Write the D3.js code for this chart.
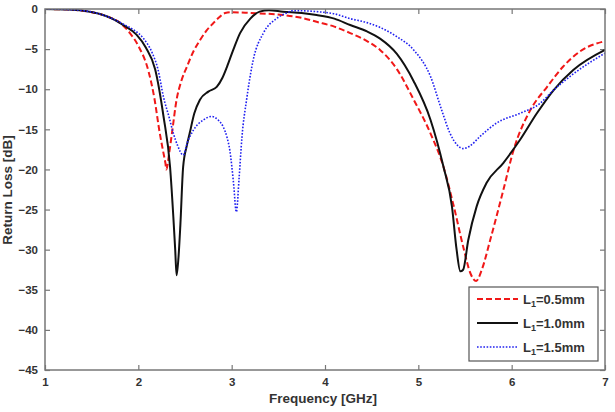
<!DOCTYPE html>
<html><head><meta charset="utf-8">
<script src="https://cdn.jsdelivr.net/npm/d3@7"></script>
<style>body{margin:0;background:#fff}svg{display:block}text{font-family:"Liberation Sans",Arial,sans-serif;font-weight:bold;fill:#333}</style>
</head><body>
<svg id="c" width="615" height="412"></svg>
<script>
const xTicks = [1,2,3,4,5,6,7];
const yTicks = [0,-5,-10,-15,-20,-25,-30,-35,-40,-45];
const seriesNames = ["=0.5mm","=1.0mm","=1.5mm"];

const redF = [1.0,1.3,1.5,1.66,1.8,1.91,2.0,2.11,2.17,2.23,2.27,2.29,2.30,2.33,2.36,2.41,2.46,2.52,2.59,2.66,2.73,2.80,2.87,2.93,3.0,3.2,3.55,3.75,3.91,4.1,4.27,4.45,4.59,4.77,4.95,5.13,5.27,5.38,5.48,5.56,5.62,5.68,5.77,5.91,6.02,6.2,6.38,6.55,6.73,7.0];
const redV = [0,-0.1,-0.4,-0.9,-1.7,-3.0,-4.6,-7.8,-11.0,-15.5,-18,-19.2,-20,-18,-15.5,-11.3,-9,-7.2,-5.3,-3.9,-2.7,-1.8,-1.0,-0.5,-0.4,-0.5,-0.75,-1.1,-1.6,-2.2,-3.0,-4.0,-5.1,-7.5,-11.3,-15.5,-19.7,-24.6,-29.6,-33,-33.9,-32.5,-28.8,-22.6,-17.6,-12.6,-9.7,-7.2,-5.3,-4.0];

const blackF = [1.0,1.3,1.66,1.84,1.98,2.08,2.18,2.27,2.34,2.375,2.395,2.41,2.43,2.45,2.48,2.52,2.55,2.60,2.66,2.75,2.84,2.90,2.95,3.02,3.09,3.2,3.3,3.4,3.55,3.75,3.91,4.1,4.27,4.45,4.59,4.77,4.95,5.13,5.27,5.36,5.41,5.45,5.48,5.535,5.625,5.73,5.91,6.09,6.27,6.45,6.66,7.0];
const blackV = [0,-0.1,-0.9,-2.0,-3.2,-4.8,-7.5,-13.4,-19.7,-25.9,-30,-33.2,-31,-27,-19.7,-17,-15.5,-13,-11.3,-10.3,-9.7,-8.6,-7.2,-5.0,-3.0,-1.2,-0.33,-0.15,-0.33,-0.5,-0.75,-1.2,-2.0,-2.8,-3.7,-5.6,-9.0,-13.8,-19.7,-24.6,-30,-32.7,-32.5,-28.8,-24.6,-21.7,-19.2,-16.3,-13,-10.1,-7.6,-5.1];

const blueF = [1.0,1.3,1.66,1.84,1.95,2.05,2.15,2.21,2.27,2.33,2.375,2.42,2.48,2.53,2.59,2.70,2.786,2.86,2.91,2.95,2.98,3.02,3.05,3.08,3.11,3.16,3.23,3.34,3.48,3.59,3.66,3.91,4.1,4.27,4.45,4.59,4.77,4.95,5.13,5.25,5.34,5.42,5.48,5.55,5.66,5.84,6.09,6.30,6.45,6.66,7.0];
const blueV = [0,-0.1,-0.9,-1.9,-2.6,-3.6,-5.5,-7.5,-11,-13.5,-15.5,-17,-18.2,-16.5,-15.1,-13.8,-13.4,-13.9,-14.7,-16,-17.6,-21.7,-25.3,-21,-16,-11.3,-6.4,-3.0,-1.2,-0.5,-0.2,-0.33,-0.6,-1.2,-1.7,-2.3,-3.45,-5.1,-8.4,-12.6,-15.5,-17,-17.4,-17.1,-15.9,-14.2,-13,-11.8,-10.1,-8.1,-5.5];

const series = [
  {name: seriesNames[0], f: redF, v: redV, color: "#f01818", width: 2, dash: "6,3"},
  {name: seriesNames[1], f: blackF, v: blackV, color: "#111", width: 2, dash: null},
  {name: seriesNames[2], f: blueF, v: blueV, color: "#2020f0", width: 1.6, dash: "1.6,1.6"}
];

const L = 45, R = 605, T = 9, B = 370;
const svg = d3.select("#c");
const x = d3.scaleLinear().domain([1,7]).range([L,R]);
const y = d3.scaleLinear().domain([-45,0]).range([B,T]);

svg.append("clipPath").attr("id","clip").append("rect").attr("x",L).attr("y",T).attr("width",R-L).attr("height",B-T);

const axCol = "#777";
const tickLen = 5;
const gAx = svg.append("g");
gAx.append("g").attr("transform",`translate(0,${B})`).call(d3.axisBottom(x).tickValues(xTicks).tickSize(-tickLen).tickPadding(8).tickFormat(d3.format("d")));
gAx.append("g").attr("transform",`translate(0,${T})`).call(d3.axisTop(x).tickValues(xTicks).tickSize(-tickLen).tickFormat(""));
gAx.append("g").attr("transform",`translate(${L},0)`).call(d3.axisLeft(y).tickValues(yTicks).tickSize(-tickLen).tickPadding(7).tickFormat(d3.format("d")));
gAx.append("g").attr("transform",`translate(${R},0)`).call(d3.axisRight(y).tickValues(yTicks).tickSize(-tickLen).tickFormat(""));
gAx.selectAll(".domain").remove();
gAx.selectAll(".tick line").attr("stroke",axCol).attr("stroke-width",1.2);
gAx.selectAll(".tick text").attr("font-size",11.5).attr("fill","#333").attr("font-weight","bold").attr("font-family","Liberation Sans, Arial, sans-serif");

const lineGen = d3.line().x(d=>x(d[0])).y(d=>y(d[1])).curve(d3.curveMonotoneX);
const gLines = svg.append("g").attr("clip-path","url(#clip)");
series.forEach(s=>{
  const pts = s.f.map((f,i)=>[f,s.v[i]]);
  gLines.append("path").datum(pts).attr("d",lineGen).attr("fill","none")
    .attr("stroke",s.color).attr("stroke-width",s.width)
    .attr("stroke-dasharray",s.dash).attr("stroke-linejoin","round");
});

svg.append("rect").attr("x",L).attr("y",T).attr("width",R-L).attr("height",B-T)
  .attr("fill","none").attr("stroke",axCol).attr("stroke-width",1.5);

svg.append("text").attr("x",323).attr("y",403).attr("text-anchor","middle").attr("font-size",13.5).text("Frequency [GHz]");
svg.append("text").attr("transform","translate(12,190) rotate(-90)").attr("text-anchor","middle").attr("font-size",13.5).text("Return Loss [dB]");

const lg = svg.append("g");
lg.append("rect").attr("x",469).attr("y",287).attr("width",129).attr("height",74).attr("fill","#fff").attr("stroke","#555").attr("stroke-width",1.2);
const ly = [299,323,347];
series.forEach((s,i)=>{
  lg.append("line").attr("x1",477).attr("x2",518).attr("y1",ly[i]).attr("y2",ly[i])
    .attr("stroke",s.color).attr("stroke-width",s.width).attr("stroke-dasharray",s.dash);
  const t = lg.append("text").attr("x",523).attr("y",ly[i]+5).attr("font-size",13);
  t.append("tspan").text("L");
  t.append("tspan").attr("font-size",9).attr("dy",3).text("1");
  t.append("tspan").attr("dy",-3).text(s.name);
});
</script>
</body></html>
